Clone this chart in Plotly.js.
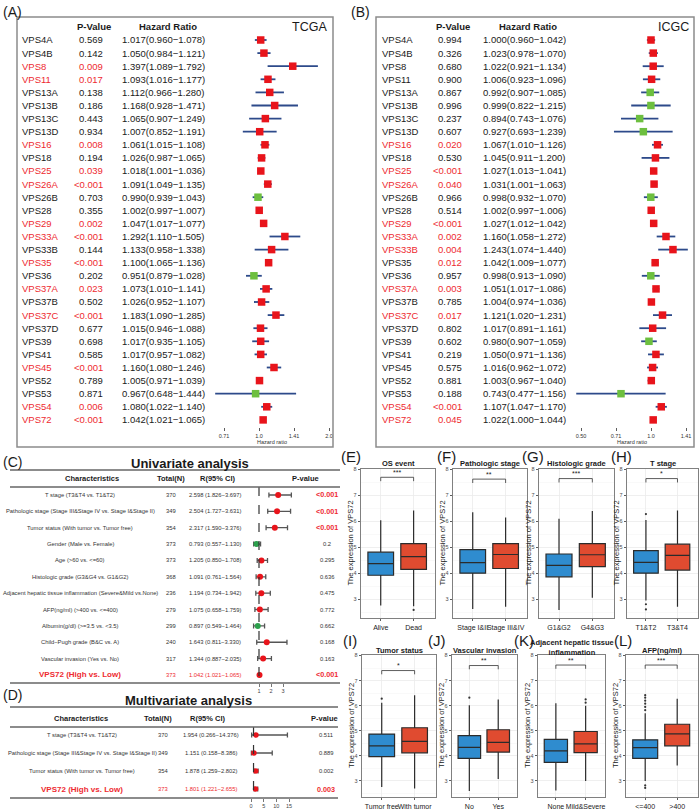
<!DOCTYPE html>
<html><head><meta charset="utf-8">
<script src="https://cdn.plot.ly/plotly-3.0.1.min.js"></script>
<style>body{margin:0;background:#fff}#plot{width:699px;height:810px}</style>
</head><body><div id="plot"></div>
<script>
// ---------------- DATA ----------------
const genes=['VPS4A','VPS4B','VPS8','VPS11','VPS13A','VPS13B','VPS13C','VPS13D','VPS16','VPS18','VPS25','VPS26A','VPS26B','VPS28','VPS29','VPS33A','VPS33B','VPS35','VPS36','VPS37A','VPS37B','VPS37C','VPS37D','VPS39','VPS41','VPS45','VPS52','VPS53','VPS54','VPS72'];
const tcgaP=['0.569','0.142','0.009','0.017','0.138','0.186','0.443','0.934','0.008','0.194','0.039','<0.001','0.703','0.355','0.002','<0.001','0.144','<0.001','0.202','0.023','0.502','<0.001','0.677','0.698','0.585','<0.001','0.789','0.871','0.006','<0.001'];
const tcgaHR=[1.017,1.050,1.397,1.093,1.112,1.168,1.065,1.007,1.061,1.026,1.018,1.091,0.990,1.002,1.047,1.292,1.133,1.100,0.951,1.073,1.026,1.183,1.015,1.017,1.017,1.160,1.005,0.967,1.080,1.042];
const tcgaLo=[0.960,0.984,1.089,1.016,0.966,0.928,0.907,0.852,1.015,0.987,1.001,1.049,0.939,0.997,1.017,1.110,0.958,1.065,0.879,1.010,0.952,1.090,0.946,0.935,0.957,1.080,0.971,0.648,1.022,1.021];
const tcgaHi=[1.078,1.121,1.792,1.177,1.280,1.471,1.249,1.191,1.108,1.065,1.036,1.135,1.043,1.007,1.077,1.505,1.338,1.136,1.028,1.141,1.107,1.285,1.088,1.105,1.082,1.246,1.039,1.444,1.140,1.065];
const icgcP=['0.994','0.326','0.680','0.900','0.867','0.996','0.237','0.607','0.020','0.530','<0.001','0.040','0.966','0.514','<0.001','0.002','0.004','0.012','0.957','0.003','0.785','0.017','0.802','0.602','0.219','0.575','0.881','0.188','<0.001','0.045'];
const icgcHR=[1.000,1.023,1.022,1.006,0.992,0.999,0.894,0.927,1.067,1.045,1.027,1.031,0.998,1.002,1.027,1.160,1.243,1.042,0.998,1.051,1.004,1.121,1.017,0.980,1.050,1.016,1.003,0.743,1.107,1.022];
const icgcLo=[0.960,0.978,0.921,0.923,0.907,0.822,0.743,0.693,1.010,0.911,1.013,1.001,0.932,0.997,1.012,1.058,1.074,1.009,0.913,1.017,0.974,1.020,0.891,0.907,0.971,0.962,0.967,0.477,1.047,1.000];
const icgcHi=[1.042,1.070,1.134,1.096,1.085,1.215,1.076,1.239,1.126,1.200,1.041,1.063,1.070,1.006,1.042,1.272,1.440,1.077,1.090,1.086,1.036,1.231,1.161,1.059,1.136,1.072,1.040,1.156,1.170,1.044];
const icgcRedNames=['VPS16','VPS25','VPS26A','VPS29','VPS33A','VPS33B','VPS37A','VPS37C','VPS54','VPS72'];
const tcgaTickVals=[0.7071,1,1.4142,2], tcgaTickText=['0.71','1.0','1.41','2.0'];
const icgcTickVals=[0.5,0.7071,1,1.4142], icgcTickText=['0.50','0.71','1.0','1.41'];

const uniLabels=['T stage (T3&T4 vs. T1&T2)','Pathologic stage (Stage III&Stage IV vs. Stage I&Stage II)','Tumor status (With tumor vs. Tumor free)','Gender (Male vs. Female)','Age (>60 vs. <=60)','Histologic grade (G3&G4 vs. G1&G2)','Adjacent hepatic tissue inflammation (Severe&Mild vs.None)','AFP(ng/ml) (>400 vs. <=400)','Albumin(g/dl) (>=3.5 vs. <3.5)','Child−Pugh grade (B&C vs. A)','Vascular invasion (Yes vs. No)','VPS72 (High vs. Low)'];
const uniN=[370,349,354,373,373,368,236,279,299,240,317,373];
const uniHR=[2.598,2.504,2.317,0.793,1.205,1.091,1.194,1.075,0.897,1.643,1.344,1.042];
const uniLo=[1.826,1.727,1.590,0.557,0.850,0.761,0.734,0.658,0.549,0.811,0.887,1.021];
const uniHi=[3.697,3.631,3.376,1.130,1.708,1.564,1.942,1.759,1.464,3.330,2.035,1.065];
const uniP=['<0.001','<0.001','<0.001','0.2','0.295','0.636','0.475','0.772','0.662','0.168','0.163','<0.001'];
const uniTicks=[1,2,3];

const multiLabels=['T stage (T3&T4 vs. T1&T2)','Pathologic stage (Stage III&Stage IV vs. Stage I&Stage II)','Tumor status (With tumor vs. Tumor free)','VPS72 (High vs. Low)'];
const multiN=[370,349,354,373];
const multiHR=[1.954,1.151,1.878,1.801];
const multiLo=[0.266,0.158,1.259,1.221];
const multiHi=[14.376,8.386,2.802,2.655];
const multiP=['0.511','0.889','0.002','0.003'];
const multiTicks=[0,5,10,15];

const boxTitles=['OS event','Pathologic stage','Histologic grade','T stage','Tumor status','Vascular invasion','Adjacent hepatic tissue<br>inflammation','AFP(ng/ml)'];
const boxLetters=['(E)','(F)','(G)','(H)','(I)','(J)','(K)','(L)'];
const grpLow=['Alive','Stage I&II','G1&G2','T1&T2','Tumor free','No','None','<=400'];
const grpHigh=['Dead','Stage III&IV','G4&G3','T3&T4','With tumor','Yes','Mild&Severe','>400'];
const lowMin=[2.75,2.62,2.58,2.95,2.76,2.60,2.62,3.00];
const lowQ1=[3.92,4.00,3.86,4.00,3.97,3.90,3.74,3.90];
const lowMed=[4.37,4.41,4.30,4.42,4.40,4.34,4.20,4.33];
const lowQ3=[4.81,4.91,4.74,4.87,4.87,4.81,4.66,4.64];
const lowMax=[6.04,6.35,6.10,6.05,6.12,6.02,6.10,5.70];
const highMin=[2.72,2.70,3.05,2.70,2.70,3.08,3.00,3.62];
const highQ1=[4.15,4.18,4.25,4.12,4.12,4.15,4.13,4.40];
const highMed=[4.64,4.72,4.71,4.69,4.58,4.54,4.48,4.88];
const highQ3=[5.14,5.14,5.14,5.12,5.12,5.04,4.97,5.26];
const highMax=[6.42,6.15,6.40,6.42,6.42,6.25,6.00,6.28];
const lowOut=[[],[],[],[6.28,2.80,2.60],[6.28],[6.32],[],[5.82,5.95,6.08,6.2,6.32,6.42,2.82,2.72]];
const highOut=[[2.58],[],[],[],[],[],[6.12,6.25],[]];
const stars=['***','**','***','*','*','**','**','***'];
const bracketY=[7.7,7.63,7.65,7.65,7.4,7.6,7.62,7.62];

// ---------------- LAYOUT HELPERS ----------------
const W=699,H=810;
const fx=p=>p/W, fy=p=>1-p/H;
const FONT='Liberation Sans, Arial, Helvetica, sans-serif';
const RED='#e8141b', GREEN='#6dbf3f', NAVY='#2d4a8a', TXTRED='#ee2a2f', BLUE='#2f8ccf', BRED='#e04b30';
const traces=[], annotations=[], shapes=[];
const layout={width:W,height:H,margin:{l:0,r:0,t:0,b:0},paper_bgcolor:'#fff',plot_bgcolor:'rgba(0,0,0,0)',showlegend:false,boxmode:'overlay',font:{family:FONT},annotations,shapes};
function T(text,x,y,o={}){annotations.push({text,x,y,xref:o.xref||'paper',yref:o.yref||'paper',xanchor:o.xa||'center',yanchor:o.ya||'middle',showarrow:false,textangle:o.angle||0,borderpad:0,font:{family:FONT,size:o.size||9,color:o.color||'#1a1a1a'}});}
function Lpx(x0,y0,x1,y1,color,width,dash){shapes.push({type:'line',xref:'paper',yref:'paper',x0:fx(x0),x1:fx(x1),y0:fy(y0),y1:fy(y1),line:{color,width,dash:dash||'solid'}});}
const isSig=p=>p.startsWith('<')||parseFloat(p)<0.05;
const fmt=v=>v.toFixed(3);
const S=n=>n===1?'':String(n);

// ---------------- PANELS A / B ----------------
function forestAB(n,HR,LO,HI,P,nameRed,o){
  const s=S(n), k=Math.log10(2)/70;
  const top=30,bot=427,r0=40,dr=13.1;
  layout['xaxis'+s]={domain:[fx(o.dom[0]),fx(o.dom[1])],anchor:'y'+s,type:'log',range:[(o.dom[0]-o.c)*k,(o.dom[1]-o.c)*k],tickvals:o.tv,ticktext:o.tt,ticks:'outside',ticklen:3,tickwidth:0.8,tickcolor:'#333',showgrid:false,zeroline:false,showline:false,tickangle:0,tickfont:{family:FONT,size:5.5,color:'#333'},fixedrange:true};
  layout['yaxis'+s]={domain:[fy(bot),fy(top)],anchor:'x'+s,range:[(bot-r0)/dr,(top-r0)/dr],visible:false,fixedrange:true};
  shapes.push({type:'line',xref:'x'+s,yref:'paper',x0:0,x1:0,y0:fy(33),y1:fy(bot),line:{color:'#d6d6d6',width:1}});
  shapes.push({type:'line',xref:'x'+s,yref:'paper',x0:Math.log10(o.tv[0]),x1:Math.log10(o.tv[o.tv.length-1]),y0:fy(bot),y1:fy(bot),line:{color:'#333',width:0.8}});
  const idx=genes.map((g,i)=>i);
  traces.push({type:'scatter',mode:'markers',x:HR,y:idx,xaxis:'x'+s,yaxis:'y'+s,hoverinfo:'skip',
    marker:{symbol:'square',size:7.5,color:HR.map(v=>v<1?GREEN:RED)},
    error_x:{type:'data',symmetric:false,array:HI.map((h,i)=>h-HR[i]),arrayminus:HR.map((h,i)=>h-LO[i]),color:NAVY,thickness:1.8,width:0}});
  genes.forEach((g,i)=>{
    T(g,fx(o.nameX),i,{yref:'y'+s,xa:'left',size:9.5,color:nameRed(g,i)?TXTRED:'#1a1a1a'});
    T(P[i],fx(o.pRight),i,{yref:'y'+s,xa:'right',size:9.5,color:isSig(P[i])?TXTRED:'#1a1a1a'});
    T(fmt(HR[i])+'('+fmt(LO[i])+'−'+fmt(HI[i])+')',fx(o.hrLeft),i,{yref:'y'+s,xa:'left',size:9.5});
  });
  T('<b>P-Value</b>',fx(o.hp),fy(27),{size:9.5});
  T('<b>Hazard Ratio</b>',fx(o.hh),fy(27),{size:9.5});
  T(o.cohort,fx(o.cx),fy(27),{size:12.5});
  T('Hazard ratio',fx(o.hrx),fy(442),{size:5.5,color:'#333'});
  shapes.push({type:'rect',xref:'paper',yref:'paper',x0:fx(o.box[0]),x1:fx(o.box[1]),y0:fy(17),y1:fy(447),line:{color:'#8c8c8c',width:1.5}});
  T(o.label,fx(o.lx),fy(12),{xa:'left',size:14});
}
forestAB(1,tcgaHR,tcgaLo,tcgaHi,tcgaP,(g,i)=>isSig(tcgaP[i]),{c:259,dom:[208,332],tv:tcgaTickVals,tt:tcgaTickText,nameX:21,pRight:104,hrLeft:121,hp:94,hh:168,cohort:'TCGA',cx:309,hrx:272,box:[17,333],label:'(A)',lx:2});
forestAB(2,icgcHR,icgcLo,icgcHi,icgcP,(g)=>icgcRedNames.includes(g),{c:651,dom:[568,693],tv:icgcTickVals,tt:icgcTickText,nameX:381,pRight:463,hrLeft:482,hp:453,hh:528,cohort:'ICGC',cx:673,hrx:632,box:[376,694],label:'(B)',lx:350});

// ---------------- PANELS C / D ----------------
function forestCD(n,labels,N,HR,LO,HI,P,ticks,o){
  const s=S(n);
  layout['xaxis'+s]={domain:[fx(o.dom[0]),fx(o.dom[1])],anchor:'y'+s,range:[o.v0+(o.dom[0]-o.p0)/o.k,o.v0+(o.dom[1]-o.p0)/o.k],tickvals:ticks,ticks:'outside',ticklen:2.5,tickwidth:0.8,tickcolor:'#555',showgrid:false,zeroline:false,showline:false,tickangle:0,tickfont:{family:FONT,size:5.5,color:'#444'},fixedrange:true};
  layout['yaxis'+s]={domain:[fy(o.bot),fy(o.top)],anchor:'x'+s,range:[(o.bot-o.r0)/o.dr,(o.top-o.r0)/o.dr],visible:false,fixedrange:true};
  shapes.push({type:'line',xref:'x'+s,yref:'paper',x0:1,x1:1,y0:fy(o.top),y1:fy(o.bot),line:{color:'#333',width:1.2,dash:'dash'}});
  const idx=labels.map((g,i)=>i), last=labels.length-1;
  traces.push({type:'scatter',mode:'markers',x:HR,y:idx,xaxis:'x'+s,yaxis:'y'+s,hoverinfo:'skip',
    marker:{symbol:'circle',size:o.ms,color:HR.map(v=>v<1?'#2ca04c':RED)},
    error_x:{type:'data',symmetric:false,array:HI.map((h,i)=>h-HR[i]),arrayminus:HR.map((h,i)=>h-LO[i]),color:'#555',thickness:1.3,width:2.5}});
  labels.forEach((lab,i)=>{
    const hl=i===last;
    T(hl?'<b>'+lab+'</b>':lab,fx(o.cl),i,{yref:'y'+s,size:hl?8:5.8,color:hl?TXTRED:'#333'});
    T(String(N[i]),fx(o.cn),i,{yref:'y'+s,size:5.8,color:hl?TXTRED:'#333'});
    T(fmt(HR[i])+' ('+fmt(LO[i])+'−'+fmt(HI[i])+')',fx(o.cc),i,{yref:'y'+s,size:5.8,color:hl?TXTRED:'#333'});
    const ph=o.pHL(P[i],i);
    T(ph?'<b>'+P[i]+'</b>':P[i],fx(o.cp),i,{yref:'y'+s,size:ph?7.2:5.8,color:ph?TXTRED:'#333'});
  });
  T('<b>Characteristics</b>',fx(o.h[0]),fy(o.hy),{size:7.5});
  T('<b>Total(N)</b>',fx(o.h[1]),fy(o.hy),{size:7.5});
  T('<b>R(95% CI)</b>',fx(o.h[2]),fy(o.hy),{size:7.5});
  T('<b>P-value</b>',fx(o.h[3]),fy(o.hy),{size:7.5});
  T('<b>'+o.title+'</b>',fx(o.tx),fy(o.ty),{size:13});
  T(o.label,fx(2),fy(o.ly),{xa:'left',size:14});
  o.lines.forEach(y=>Lpx(10,y,o.lineR,y,'#666',1.4));
}
forestCD(3,uniLabels,uniN,uniHR,uniLo,uniHi,uniP,uniTicks,{dom:[249,300],v0:1,p0:259,k:12,top:487,bot:683,r0:495,dr:16.36,ms:6,cl:80,cn:171,cc:215,cp:327,pHL:(p)=>isSig(p),h:[92,171,218,305],hy:478,title:'Univariate analysis',tx:190,ty:463,label:'(C)',ly:462,lines:[470,487,683],lineR:340});
forestCD(4,multiLabels,multiN,multiHR,multiLo,multiHi,multiP,multiTicks,{dom:[246,300],v0:0,p0:251,k:38/15,top:727,bot:798,r0:735,dr:18,ms:5.5,cl:82,cn:163,cc:211,cp:326,pHL:(p,i)=>i===multiP.length-1,h:[81,158,208,324],hy:718,title:'Multivariate analysis',tx:188,ty:700,label:'(D)',ly:695,lines:[707,727,798],lineR:338});

// ---------------- PANELS E–L ----------------
const frames=[[361,435,469,618],[453,527,469,618],[539,614,469,618],[627,698,469,618],[362,436,655,797],[452,517,655,797],[538,605,655,797],[626,698,655,797]];
const letterX=[351,446,533,621,350,437,524,623];
boxTitles.forEach((title,j)=>{
  const n=5+j, s=S(n), [l,r,t,b]=frames[j], topRow=j<4;
  const cats=[grpLow[j],grpHigh[j]];
  layout['xaxis'+s]={domain:[fx(l),fx(r)],anchor:'y'+s,type:'category',categoryorder:'array',categoryarray:cats,range:[-0.6,1.65],showline:true,mirror:true,linecolor:'#808080',linewidth:1.3,showgrid:true,gridcolor:'#ebebeb',gridwidth:0.8,ticks:'outside',ticklen:2,tickwidth:0.8,tickcolor:'#333',tickangle:0,tickfont:{family:FONT,size:7,color:'#1a1a1a'},zeroline:false,fixedrange:true};
  layout['yaxis'+s]={domain:[fy(b),fy(t)],anchor:'x'+s,range:topRow?[2.27,8.02]:[2.36,8.02],tickvals:[3,4,5,6,7,8],ticks:'outside',ticklen:2,tickwidth:0.8,tickcolor:'#333',tickfont:{family:FONT,size:5.5,color:'#4d4d4d'},showgrid:true,gridcolor:'#ebebeb',gridwidth:0.8,minor:{tickvals:[2.5,3.5,4.5,5.5,6.5,7.5],showgrid:true,gridcolor:'#f5f5f5',gridwidth:0.6,ticks:''},showline:true,mirror:true,linecolor:'#808080',linewidth:1.3,zeroline:false,fixedrange:true};
  const common={type:'box',xaxis:'x'+s,yaxis:'y'+s,boxpoints:false,whiskerwidth:0,width:0.78,hoverinfo:'skip',line:{color:'#2b2b2b',width:1.2}};
  traces.push(Object.assign({},common,{x:[cats[0]],q1:[lowQ1[j]],median:[lowMed[j]],q3:[lowQ3[j]],lowerfence:[lowMin[j]],upperfence:[lowMax[j]],fillcolor:BLUE}));
  traces.push(Object.assign({},common,{x:[cats[1]],q1:[highQ1[j]],median:[highMed[j]],q3:[highQ3[j]],lowerfence:[highMin[j]],upperfence:[highMax[j]],fillcolor:BRED}));
  const ox=lowOut[j].map(()=>cats[0]).concat(highOut[j].map(()=>cats[1]));
  const oy=lowOut[j].concat(highOut[j]);
  if(oy.length) traces.push({type:'scatter',mode:'markers',x:ox,y:oy,xaxis:'x'+s,yaxis:'y'+s,hoverinfo:'skip',marker:{size:2.2,color:'#333'}});
  const by=bracketY[j];
  traces.push({type:'scatter',mode:'lines',x:[cats[0],cats[0],cats[1],cats[1]],y:[by-0.15,by,by,by-0.15],xaxis:'x'+s,yaxis:'y'+s,hoverinfo:'skip',line:{color:'#333',width:0.8}});
  T(stars[j],0.5,by+0.02,{xref:'x'+s,yref:'y'+s,ya:'bottom',size:7});
  const isTwo=title.includes('<br>');
  T('<b>'+title+'</b>',fx((l+r)/2),fy(topRow?463:(isTwo?647.5:650)),{size:7.5});
  T(boxLetters[j],fx(letterX[j]),fy(topRow?456:640),{size:15});
  T('The expression of VPS72',fx(l-11),fy((t+b)/2),{angle:-90,size:7.5,color:'#1a1a1a'});
});

Plotly.newPlot('plot',traces,layout,{staticPlot:true,displayModeBar:false});
</script>
</body></html>
